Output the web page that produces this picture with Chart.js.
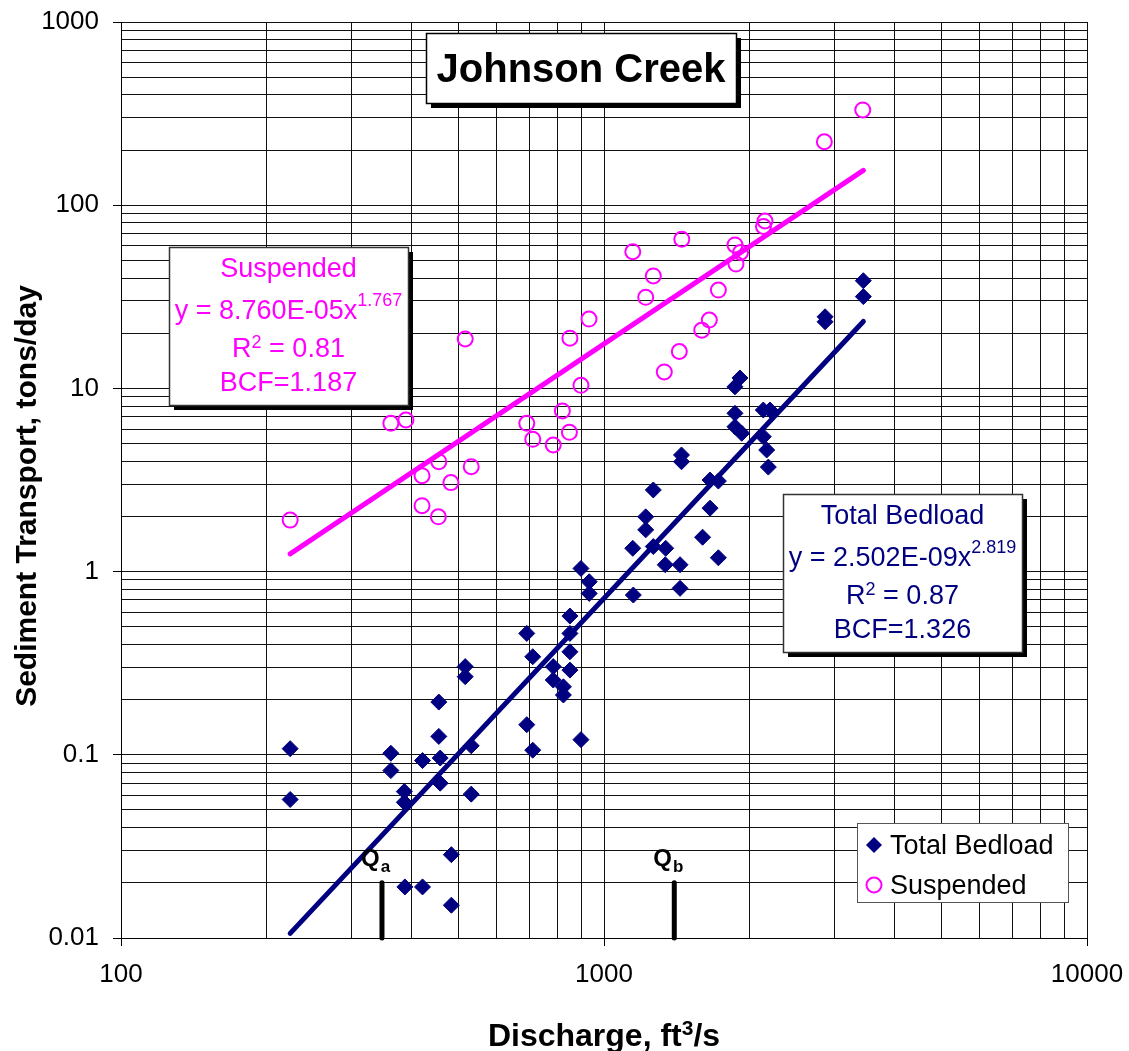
<!DOCTYPE html>
<html>
<head>
<meta charset="utf-8">
<title>Johnson Creek</title>
<script src="https://cdn.jsdelivr.net/npm/chart.js"></script>
<style>
  html, body { margin:0; padding:0; background:#fff; }
  #wrap { width:1129px; height:1051px; }
</style>
</head>
<body>
<div id="wrap"><canvas id="sedChart" width="1129" height="1051"></canvas></div>
<script>
// =========================
// DATA
// =========================

// Total bedload samples (discharge ft3/s, tons/day)
const bedloadQ = [224,224,362,362,386,386,421,455,455,458,458,516,516,531,531,483,483,387,421,
  692,712,692,712,896,850,850,850,850,785,785,824,824,896,932,932,1147,1150,1220,1220,1265,1265,
  1342,1339,1437,1437,1447,1447,1600,1658,1725,1658,1725,1867,1912,1867,1867,1928,2137,2206,2137,
  2172,2189,2869,2869,3443,3443];
const bedloadLoad = [0.108,0.057,0.102,0.082,0.063,0.055,0.093,0.194,0.126,0.096,0.070,0.303,0.267,
  0.112,0.061,0.0285,0.0151,0.019,0.019,0.46,0.343,0.146,0.106,0.121,0.572,0.46,0.365,0.290,0.303,
  0.256,0.235,0.212,1.04,0.88,0.76,1.34,0.745,1.99,1.69,2.79,1.37,1.34,1.09,1.09,0.81,4.33,3.98,
  1.54,3.16,3.12,2.22,1.19,10.2,11.4,7.31,6.18,5.69,7.62,7.62,5.45,4.61,3.72,24.6,23.1,38.7,31.7];

// Suspended samples
const suspQ = [224,362,389,516,420,455,531,482,420,454,692,712,785,848,820,896,850,931,1147,1220,
  1265,1449,1333,1432,1594,1652,1725,1867,1917,1876,2154,2139,2859,3433];
const suspLoad = [1.91,6.45,6.72,18.6,3.34,3.98,3.74,3.06,2.29,1.99,6.45,5.27,4.91,5.76,7.53,10.4,
  18.8,23.9,55.7,31.4,41.1,65.2,12.3,15.9,20.8,23.6,34.4,60.7,55.2,47.7,82.0,76.5,222,331];

// power trendlines, read at their two ends
const trendQ = [224, 3443];
const bedTrendLoad = [0.0106, 23.2];
const suspTrendLoad = [1.25, 155];

// Qa / Qb markers
const qaQ = 347;
const qbQ = 1398;
const markerLoad = [0.01, 0.02];

const xTickLabels = ["100", "1000", "10000"];
const yTickLabels = ["0.01", "0.1", "1", "10", "100", "1000"];

const xTitle = ["Discharge, ft", "3", "/s"];
const yTitle = "Sediment Transport, tons/day";

const suspText = ["Suspended", "y = 8.760E-05x", "1.767", "0.81", "BCF=1.187"];
const bedText = ["Total Bedload", "y = 2.502E-09x", "2.819", "0.87", "BCF=1.326"];

// =========================
// HELPERS
// =========================

const FONT = "'Liberation Sans', Arial, Helvetica, sans-serif";
const NAVY = "#000080";
const PINK = "#FF00FF";

function pts(xs, ys){
  return xs.map((x,i) => ({x: x, y: ys[i]}));
}

function logGrid(scale, lo, hi){
  const t = [];
  for(let e = lo; e < hi; e++){
    for(let m = 1; m < 10; m++) t.push({value: m * Math.pow(10, e)});
  }
  t.push({value: Math.pow(10, hi)});
  scale.ticks = t;
}

function findLabel(labels, v){
  const hit = labels.find(l => Math.abs(Number(l) - v) < Number(l) * 1e-6);
  return hit === undefined ? "" : hit;
}

function isDecade(v){
  const l = Math.log10(v);
  return Math.abs(l - Math.round(l)) < 1e-6;
}

function shadowBox(ctx, x, y, w, h, border){
  ctx.fillStyle = "#000";
  ctx.fillRect(x + 5, y + 5, w, h);
  ctx.fillStyle = "#fff";
  ctx.fillRect(x, y, w, h);
  ctx.strokeStyle = border;
  ctx.lineWidth = 1.5;
  ctx.strokeRect(x + 0.5, y + 0.5, w, h);
}

// parts: [text, size, raise]
function partsLine(ctx, cx, y, parts, color, weight){
  let w = 0;
  parts.forEach(p => {
    ctx.font = (weight || "") + " " + p[1] + "px " + FONT;
    w += ctx.measureText(p[0]).width;
  });
  let x = cx - w / 2;
  ctx.fillStyle = color;
  ctx.textAlign = "left";
  ctx.textBaseline = "alphabetic";
  parts.forEach(p => {
    ctx.font = (weight || "") + " " + p[1] + "px " + FONT;
    ctx.fillText(p[0], x, y - (p[2] || 0));
    x += ctx.measureText(p[0]).width;
  });
}

function fitBox(ctx, x, y, txt, color){
  const w = 239, h = 158;
  shadowBox(ctx, x, y, w, h, "#333");
  const cx = x + w / 2;
  partsLine(ctx, cx, y + 30, [[txt[0], 27]], color);
  partsLine(ctx, cx, y + 72, [[txt[1], 27], [txt[2], 18, 13]], color);
  partsLine(ctx, cx, y + 110, [["R", 27], ["2", 18, 9], [" = " + txt[3], 27]], color);
  partsLine(ctx, cx, y + 144, [[txt[4], 27]], color);
}

const annotPlugin = {
  id: "annot",
  afterDraw(chart){
    const ctx = chart.ctx;
    const xs = chart.scales.x, ys = chart.scales.y;
    const area = chart.chartArea;
    ctx.save();

    // axis titles
    partsLine(ctx, (area.left + area.right) / 2, 1046,
      [[xTitle[0], 32], [xTitle[1], 21, 11], [xTitle[2], 32]], "#000", "bold");
    ctx.save();
    ctx.translate(36, 496);
    ctx.rotate(-Math.PI / 2);
    partsLine(ctx, 0, 0, [[yTitle, 30]], "#000", "bold");
    ctx.restore();

    // title box
    shadowBox(ctx, 426, 33, 310, 70, "#000");
    partsLine(ctx, 581, 82, [["Johnson Creek", 40]], "#000", "bold");

    // fit boxes
    fitBox(ctx, 169, 247, suspText, PINK);
    fitBox(ctx, 783, 494, bedText, NAVY);

    // Qa / Qb labels
    const ly = ys.getPixelForValue(markerLoad[1]) - 17;
    [[qaQ, "a"], [qbQ, "b"]].forEach(q => {
      const px = xs.getPixelForValue(q[0]);
      ctx.fillStyle = "#000";
      ctx.textAlign = "left";
      ctx.textBaseline = "alphabetic";
      ctx.font = "bold 24px " + FONT;
      ctx.fillText("Q", px - 21, ly);
      const qw = ctx.measureText("Q").width;
      ctx.font = "bold 17px " + FONT;
      ctx.fillText(q[1], px - 21 + qw + 1, ly + 6);
    });

    // legend
    const lx = 857, lt = 823;
    ctx.fillStyle = "#fff";
    ctx.fillRect(lx, lt, 211, 79);
    ctx.strokeStyle = "#555";
    ctx.lineWidth = 1;
    ctx.strokeRect(lx + 0.5, lt + 0.5, 211, 79);
    chart.data.datasets.slice(0, 2).forEach((ds, i) => {
      const cy = lt + 22 + i * 40;
      ctx.beginPath();
      if(ds.pointStyle === "rectRot"){
        ctx.moveTo(lx + 17, cy - 8);
        ctx.lineTo(lx + 25, cy);
        ctx.lineTo(lx + 17, cy + 8);
        ctx.lineTo(lx + 9, cy);
        ctx.closePath();
        ctx.fillStyle = ds.backgroundColor;
        ctx.fill();
      } else {
        ctx.arc(lx + 17, cy, 7.5, 0, Math.PI * 2);
        ctx.strokeStyle = ds.borderColor;
        ctx.lineWidth = 2;
        ctx.stroke();
      }
      ctx.fillStyle = "#000";
      ctx.font = "27px " + FONT;
      ctx.textBaseline = "alphabetic";
      ctx.fillText(ds.label, lx + 33, cy + 9);
    });

    ctx.restore();
  }
};

// =========================
// CHART
// =========================

const ctx = document.getElementById("sedChart").getContext("2d");

new Chart(ctx, {
  type: "scatter",
  data: {
    datasets: [
      {label: "Total Bedload", data: pts(bedloadQ, bedloadLoad), pointStyle: "rectRot",
        pointRadius: 8, borderWidth: 1, backgroundColor: NAVY, borderColor: NAVY},
      {label: "Suspended", data: pts(suspQ, suspLoad), pointStyle: "circle",
        pointRadius: 7.5, borderWidth: 2, backgroundColor: "rgba(0,0,0,0)", borderColor: PINK},
      {label: "bed trend", data: pts(trendQ, bedTrendLoad), showLine: true, pointRadius: 0,
        borderColor: NAVY, borderWidth: 5, borderCapStyle: "round"},
      {label: "susp trend", data: pts(trendQ, suspTrendLoad), showLine: true, pointRadius: 0,
        borderColor: PINK, borderWidth: 5, borderCapStyle: "round"},
      {label: "Qa", data: pts([qaQ, qaQ], markerLoad), showLine: true, pointRadius: 0,
        borderColor: "#000", borderWidth: 5, borderCapStyle: "round", clip: false},
      {label: "Qb", data: pts([qbQ, qbQ], markerLoad), showLine: true, pointRadius: 0,
        borderColor: "#000", borderWidth: 5, borderCapStyle: "round", clip: false}
    ]
  },
  options: {
    responsive: false,
    animation: false,
    devicePixelRatio: 1,
    layout: {padding: {left: 0, right: 42, top: 22, bottom: 0}},
    plugins: {legend: {display: false}, tooltip: {enabled: false}},
    scales: {
      x: {
        type: "logarithmic", min: 100, max: 10000, position: "bottom",
        afterBuildTicks: s => logGrid(s, 2, 4),
        afterFit: s => { s.height = 113; s.paddingLeft = 0; s.paddingRight = 0; },
        ticks: {autoSkip: false, maxRotation: 0, padding: 13, color: "#000",
          font: {family: FONT, size: 26},
          callback: v => findLabel(xTickLabels, v)},
        grid: {color: "#111", lineWidth: 1, tickLength: 8,
          tickColor: c => (c.tick && isDecade(c.tick.value)) ? "#000" : "rgba(0,0,0,0)"},
        border: {color: "#000", width: 1}
      },
      y: {
        type: "logarithmic", min: 0.01, max: 1000,
        afterBuildTicks: s => logGrid(s, -2, 3),
        afterFit: s => { s.width = 121; s.paddingTop = 0; s.paddingBottom = 0; },
        ticks: {autoSkip: false, padding: 14, color: "#000",
          font: {family: FONT, size: 26},
          callback: v => findLabel(yTickLabels, v)},
        grid: {color: "#111", lineWidth: 1, tickLength: 8,
          tickColor: c => (c.tick && isDecade(c.tick.value)) ? "#000" : "rgba(0,0,0,0)"},
        border: {color: "#000", width: 1}
      }
    }
  },
  plugins: [annotPlugin]
});
</script>
</body>
</html>
